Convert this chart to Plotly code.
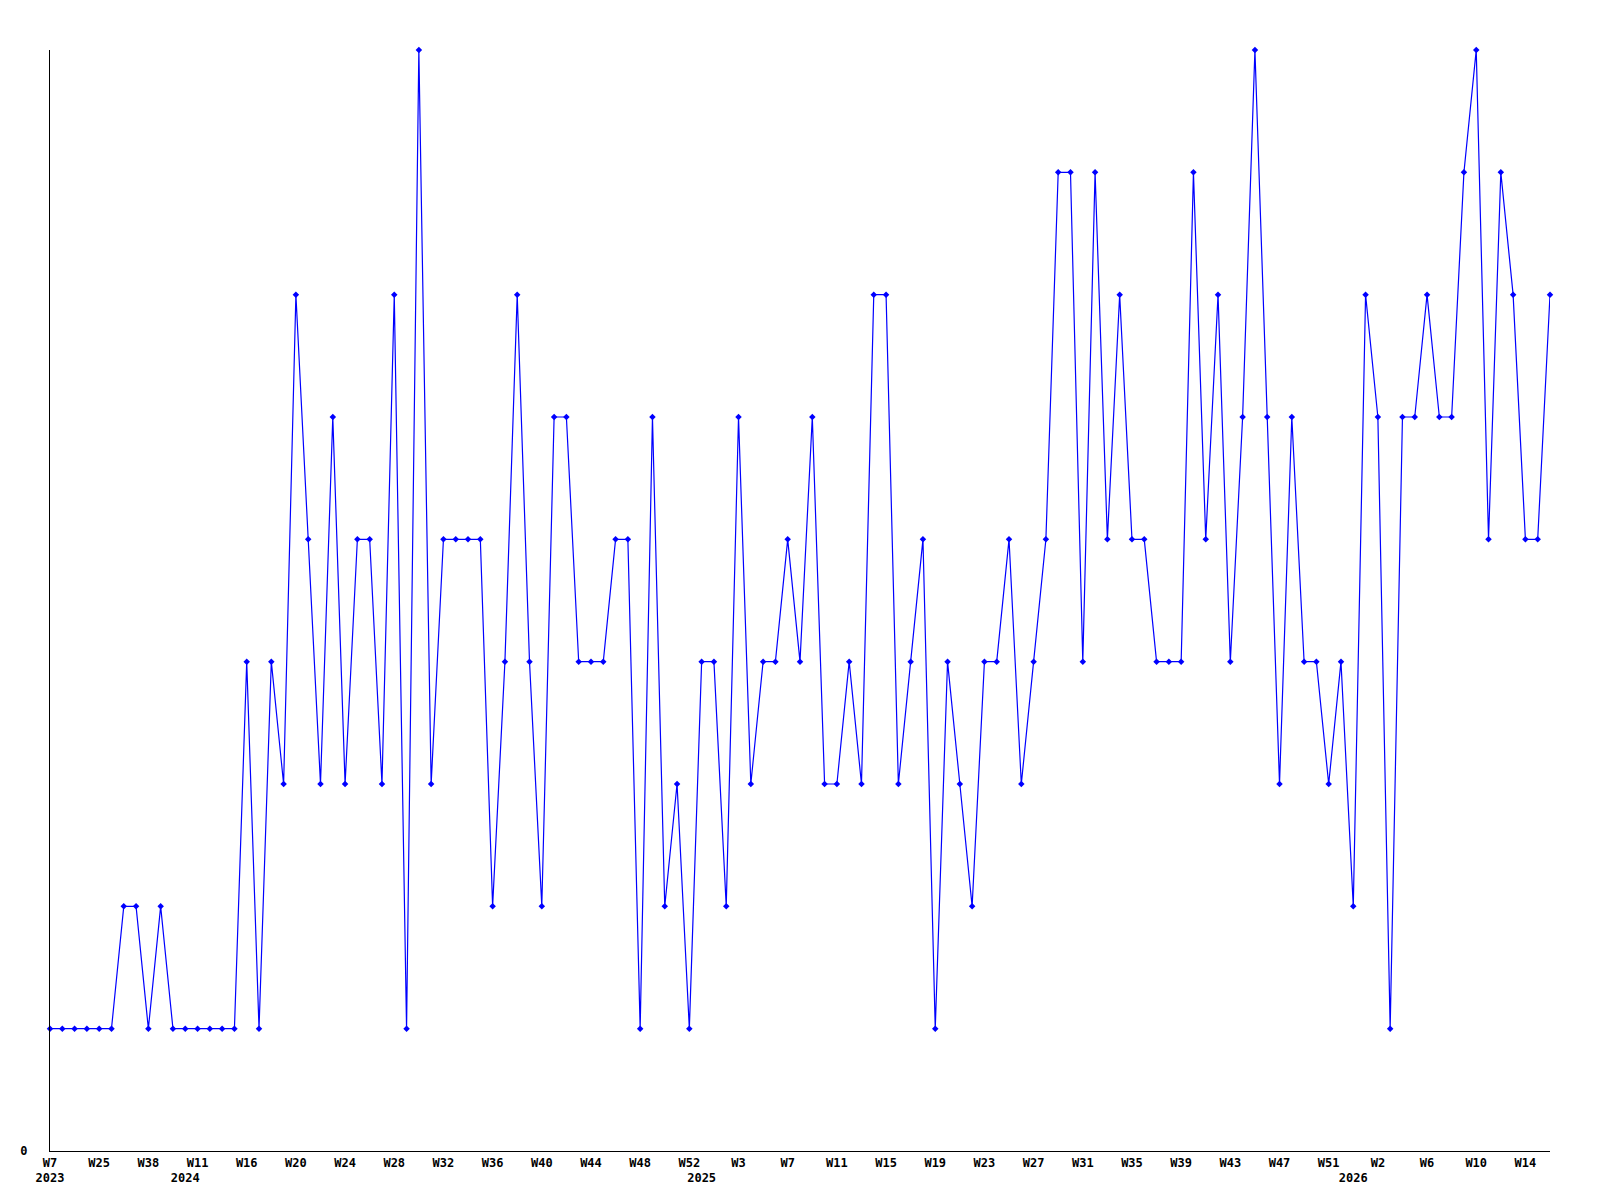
import plotly.graph_objects as go

# week numbers per year (one entry per point on the chart)
weeks_2023 = [7, 12, 16, 21, 25, 29, 32, 35, 38, 43, 48]
weeks_2024 = [10, 11, 12, 13, 15, 16, 17, 18, 19, 20, 21, 22, 23, 24, 25, 26, 27,
              28, 29, 30, 31, 32, 33, 34, 35, 36, 37, 38, 39, 40, 41, 42, 43, 44,
              45, 46, 47, 48, 49, 50, 51, 52]
weeks_2025 = [0, 1, 2, 3, 4, 5, 6, 7, 8, 9, 10, 11, 12, 13, 14, 15, 16, 17, 18,
              19, 20, 21, 22, 23, 24, 25, 26, 27, 28, 29, 30, 31, 32, 33, 34, 35,
              36, 37, 38, 39, 40, 41, 42, 43, 44, 45, 46, 47, 48, 49, 50, 51, 52]
weeks_2026 = [0, 1, 2, 3, 4, 5, 6, 7, 8, 9, 10, 11, 12, 13, 14, 15, 16]

values_2023 = [1, 1, 1, 1, 1, 1, 2, 2, 1, 2, 1]
values_2024 = [1, 1, 1, 1, 1, 4, 1, 4, 3, 7, 5, 3, 6, 3, 5, 5, 3, 7, 1, 9, 3,
               5, 5, 5, 5, 2, 4, 7, 4, 2, 6, 6, 4, 4, 4, 5, 5, 1, 6, 2, 3, 1]
values_2025 = [4, 4, 2, 6, 3, 4, 4, 5, 4, 6, 3, 3, 4, 3, 7, 7, 3, 4, 5, 1, 4, 3,
               2, 4, 4, 5, 3, 4, 5, 8, 8, 4, 8, 5, 7, 5, 5, 4, 4, 4, 8, 5, 7, 4,
               6, 9, 6, 3, 6, 4, 4, 3, 4]
values_2026 = [2, 7, 6, 1, 6, 6, 7, 6, 6, 8, 9, 5, 8, 7, 5, 5, 7]

years = [2023, 2024, 2025, 2026]
weeks_by_year = [weeks_2023, weeks_2024, weeks_2025, weeks_2026]
values_by_year = [values_2023, values_2024, values_2025, values_2026]

x, y, week_no, year_start = [], [], [], []
for yr, wks, vals in zip(years, weeks_by_year, values_by_year):
    for j, (w, v) in enumerate(zip(wks, vals)):
        x.append(f"{yr}-W{w:02d}")
        y.append(v)
        week_no.append(w)
        year_start.append(yr if j == 0 else None)

# a week label every 4th point, a year label under the first week of each year
tickvals, ticktext = [], []
for i, cat in enumerate(x):
    top = f"W{week_no[i]}" if i % 4 == 0 else ""
    bottom = str(year_start[i]) if year_start[i] else ""
    if top or bottom:
        tickvals.append(cat)
        ticktext.append(top + ("<br>" + bottom if bottom else ""))

tick_font = dict(family="DejaVu Sans Mono", size=12, color="black", weight="bold")

fig = go.Figure(
    go.Scatter(
        x=x,
        y=y,
        mode="lines+markers",
        line=dict(color="#0000ff", width=1.2),
        marker=dict(symbol="diamond", size=5, color="#0000ff", line=dict(width=0)),
        cliponaxis=False,
        showlegend=False,
    )
)

fig.update_layout(
    width=1600,
    height=1200,
    margin=dict(l=50, r=50, t=50, b=49, pad=0),
    paper_bgcolor="white",
    plot_bgcolor="white",
)
fig.update_xaxes(
    type="category",
    range=[0, len(x) - 1],
    tickvals=tickvals,
    ticktext=ticktext,
    tickangle=0,
    tickfont=tick_font,
    ticks="",
    showgrid=False,
    zeroline=False,
    showline=True,
    linecolor="black",
    linewidth=1.2,
)
fig.update_yaxes(
    range=[0, 9],
    tickvals=[0],
    ticktext=["0"],
    tickfont=tick_font,
    ticks="",
    ticklabelstandoff=19,
    showgrid=False,
    zeroline=False,
    showline=True,
    linecolor="black",
    linewidth=1.2,
)

fig.write_html("out.html", config={"displayModeBar": False},
               post_script="document.body.style.margin='0';")
